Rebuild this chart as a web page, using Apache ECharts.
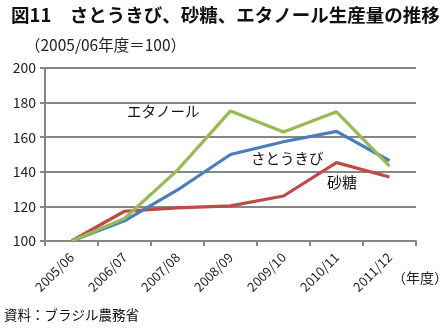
<!DOCTYPE html>
<html>
<head>
<meta charset="utf-8">
<script src="https://cdn.jsdelivr.net/npm/echarts@6/dist/echarts.min.js"></script>
<style>
  html, body { margin: 0; padding: 0; background: #fff; }
  #chart { width: 448px; height: 329px; }
</style>
</head>
<body>
<div id="chart"></div>
<script>
// Fiscal years (index, 2005/06 = 100)
const years = ['2005/06', '2006/07', '2007/08', '2008/09', '2009/10', '2010/11', '2011/12'];
const sugarcane = [100, 111.7, 129.5, 150, 157.4, 163.4, 146.4];
const sugar     = [100, 117.2, 119.2, 120.3, 126, 145.3, 137];
const ethanol   = [100, 113, 141, 175.2, 163, 174.7, 143.3];
const yTicks = { min: 100, max: 200, interval: 20 };

const jp = '"Noto Sans CJK JP", "Noto Sans", sans-serif';
const gridColor = '#868686';

const chart = echarts.init(document.getElementById('chart'), null, { renderer: 'canvas' });

function lineSeries(name, data, color) {
  return {
    name, type: 'line', data,
    symbol: 'none',
    lineStyle: { color, width: 3.2 },
    itemStyle: { color },
    z: name === 'エタノール' ? 4 : (name === 'さとうきび' ? 3 : 2)
  };
}

chart.setOption({
  animation: false,
  backgroundColor: '#ffffff',
  grid: { left: 45, right: 32, top: 68, bottom: 88 },
  xAxis: {
    type: 'category',
    data: years,
    boundaryGap: true,
    axisLine: { lineStyle: { color: gridColor, width: 2 } },
    axisTick: { show: true, length: 5, lineStyle: { color: gridColor, width: 2 } },
    axisLabel: { rotate: 45, color: '#222', fontSize: 13, fontFamily: jp, margin: 14, interval: 0 }
  },
  yAxis: {
    type: 'value',
    min: yTicks.min, max: yTicks.max, interval: yTicks.interval,
    axisLine: { show: true, lineStyle: { color: gridColor, width: 2 } },
    axisTick: { show: true, length: 5, lineStyle: { color: gridColor, width: 2 } },
    splitLine: { lineStyle: { color: gridColor, width: 2 } },
    axisLabel: { color: '#222', fontSize: 14, fontFamily: jp, margin: 9 }
  },
  series: [
    lineSeries('砂糖', sugar, '#be4b48'),
    lineSeries('さとうきび', sugarcane, '#4a7ebb'),
    lineSeries('エタノール', ethanol, '#98b954')
  ],
  graphic: [
    { type: 'text', left: 11, top: 6,
      style: { text: '図11　さとうきび、砂糖、エタノール生産量の推移', font: 'bold 18.5px ' + jp, fill: '#111' } },
    { type: 'text', left: 25, top: 37,
      style: { text: '（2005/06年度＝100）', font: '15.5px ' + jp, fill: '#222' } },
    { type: 'text', left: 127, top: 104,
      style: { text: 'エタノール', font: '14.5px ' + jp, fill: '#111' } },
    { type: 'text', left: 251, top: 151,
      style: { text: 'さとうきび', font: '14.5px ' + jp, fill: '#111' } },
    { type: 'text', left: 327, top: 175,
      style: { text: '砂糖', font: '15px ' + jp, fill: '#111' } },
    { type: 'text', left: 392, top: 271,
      style: { text: '（年度）', font: '14px ' + jp, fill: '#222' } },
    { type: 'text', left: 4, top: 308,
      style: { text: '資料：ブラジル農務省', font: '13.5px ' + jp, fill: '#111' } }
  ]
});
</script>
</body>
</html>
